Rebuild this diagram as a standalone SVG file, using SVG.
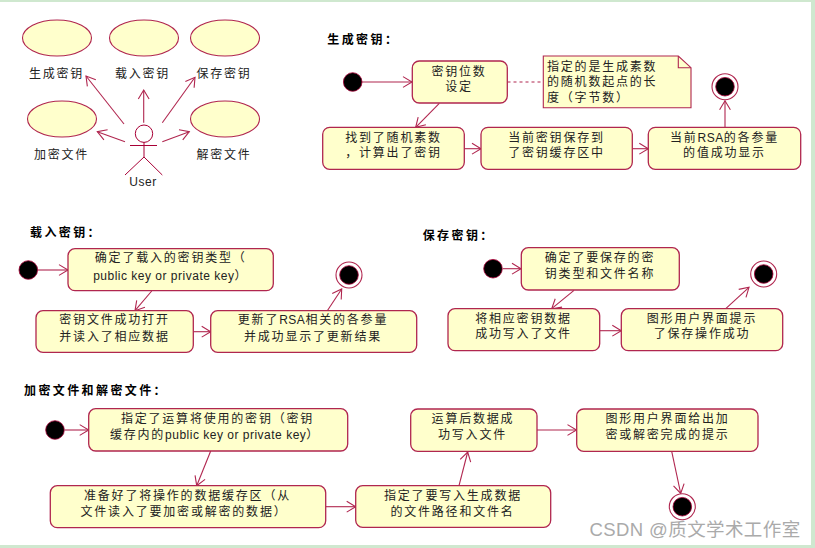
<svg xmlns="http://www.w3.org/2000/svg" width="815" height="548" viewBox="0 0 815 548">
<style>
text{font-family:"Liberation Sans","Noto Sans CJK SC",sans-serif;font-size:12px;fill:#222;letter-spacing:1.8px;text-anchor:middle;dominant-baseline:central}
.l{letter-spacing:.5px}
.title{font-weight:700;fill:#000;text-anchor:start;letter-spacing:2.4px}
.start{text-anchor:start}
.uc{fill:#ffffcc;stroke:#b0264f;stroke-width:1.1}
.box{fill:#ffffcc;stroke:#b0264f;stroke-width:1.3}
.dot{fill:#000;stroke:#a80036;stroke-width:.8}
.ring{fill:#fff;stroke:#b0264f;stroke-width:1.1}
.c{fill:none;stroke:#b0264f;stroke-width:1.1;marker-end:url(#a)}
.actor{fill:none;stroke:#a80036;stroke-width:1}
.wm{font-size:18.5px;fill:#aaa;letter-spacing:.4px;text-anchor:start}
</style>
<defs>
<marker id="a" markerUnits="userSpaceOnUse" markerWidth="14" markerHeight="14" refX="10" refY="7" orient="auto">
<path d="M1 1.6L10 7L1 12.4" fill="none" stroke="#b0264f" stroke-width="1.1"/>
</marker>
</defs>
<rect width="815" height="548" fill="#fff"/>
<path d="M0 0H815V548H0V545H811V2H0Z" fill="#cfe8cf"/>

<g id="connectors">
<path class="c" d="M124 124L86 76"/>
<path class="c" d="M143.7 122.7V90"/>
<path class="c" d="M162.3 122.7L195 77.3"/>
<path class="c" d="M125 141.7L97.3 131.7"/>
<path class="c" d="M162.3 141.7L189.3 131.7"/>
<path class="c" d="M362 82H412"/>
<path d="M507.5 82H542" fill="none" stroke="#b0264f" stroke-width="1.1" stroke-dasharray="3 3"/>
<path class="c" d="M439.3 103.3L415.7 127.3"/>
<path class="c" d="M464.3 148.7H481"/>
<path class="c" d="M632.3 148.7H648.3"/>
<path class="c" d="M725 127.3V100.7"/>
<path class="c" d="M37.7 270H68"/>
<path class="c" d="M151.7 291L135 310.7"/>
<path class="c" d="M193.3 331.7H210.7"/>
<path class="c" d="M327.3 310.7L341.7 289"/>
<path class="c" d="M503 268.7H521"/>
<path class="c" d="M574 290.3L551.7 308.7"/>
<path class="c" d="M599.7 330.7H621.3"/>
<path class="c" d="M726 308.3L749 287.3"/>
<path class="c" d="M65 430H88.7"/>
<path class="c" d="M210.7 451L196.7 485.7"/>
<path class="c" d="M325.7 506.7H355.7"/>
<path class="c" d="M459 485.7L467.7 452"/>
<path class="c" d="M537 430H576.5"/>
<path class="c" d="M671.7 451.3L680.7 493.5"/>
</g>

<g id="uc1"><ellipse class="uc" cx="57" cy="38" rx="34.5" ry="18"/><text x="56.5" y="74">生成密钥</text></g>
<g id="uc2"><ellipse class="uc" cx="144" cy="38" rx="34.5" ry="18"/><text x="142.5" y="74">载入密钥</text></g>
<g id="uc3"><ellipse class="uc" cx="225" cy="38" rx="34.5" ry="18"/><text x="224" y="74">保存密钥</text></g>
<g id="uc4"><ellipse class="uc" cx="62" cy="119" rx="34.5" ry="18"/><text x="61.5" y="155">加密文件</text></g>
<g id="uc5"><ellipse class="uc" cx="225" cy="119" rx="34.5" ry="18"/><text x="224" y="155">解密文件</text></g>
<g id="actor">
<circle class="actor" cx="144" cy="133.7" r="8.7"/>
<path class="actor" d="M144 142.4V157M130 145.5H157M125 175L144 157L162.3 175"/>
<text class="l" x="143" y="181.5">User</text>
</g>

<text class="title" x="327.3" y="40">生成密钥：</text>
<g id="g-start"><circle class="dot" cx="352.7" cy="82" r="9.3"/></g>
<g id="g1"><rect class="box" x="412.3" y="61" width="95" height="42" rx="7"/><text x="459" y="71.7">密钥位数</text><text x="459" y="86.7">设定</text></g>
<g id="g-note">
<path d="M543.3 56H678.3L691 67.7V107.7H543.3Z" fill="#ffffcc" stroke="#b0264f" stroke-width="1.1"/>
<path d="M678.3 56V67.7H691" fill="none" stroke="#b0264f" stroke-width="1.1"/>
<text class="start" x="547" y="66.7">指定的是生成素数</text><text class="start" x="547" y="82.3">的随机数起点的长</text><text class="start" x="547" y="98.3">度（字节数）</text>
</g>
<g id="g-end"><circle class="ring" cx="725" cy="86.7" r="13"/><circle class="dot" cx="725" cy="86.7" r="9.3"/></g>
<g id="g2"><rect class="box" x="322.7" y="127.3" width="141.6" height="42" rx="7"/><text x="393.5" y="137.5">找到了随机素数</text><text x="393.5" y="153">，计算出了密钥</text></g>
<g id="g3"><rect class="box" x="481" y="127.3" width="151.3" height="42" rx="7"/><text x="556.5" y="137.5">当前密钥保存到</text><text x="556.5" y="153">了密钥缓存区中</text></g>
<g id="g4"><rect class="box" x="648.3" y="127.3" width="152.4" height="42" rx="7"/><text x="724.5" y="137.5">当前<tspan class="l">RSA</tspan>的各参量</text><text x="724.5" y="153">的值成功显示</text></g>

<text class="title" x="30" y="233">载入密钥：</text>
<g id="l-start"><circle class="dot" cx="28.3" cy="270" r="9.3"/></g>
<g id="l1"><rect class="box" x="68" y="248.7" width="205.3" height="42" rx="7"/><text x="170.7" y="258.3">确定了载入的密钥类型（</text><text x="170.7" y="275.7"><tspan class="l">public key or private key</tspan>）</text></g>
<g id="l2"><rect class="box" x="36" y="310.7" width="157.3" height="41.6" rx="7"/><text x="114.5" y="320">密钥文件成功打开</text><text x="114.5" y="336.7">并读入了相应数据</text></g>
<g id="l3"><rect class="box" x="210.7" y="310.7" width="206" height="41.6" rx="7"/><text x="313" y="320">更新了<tspan class="l">RSA</tspan>相关的各参量</text><text x="313" y="336.7">并成功显示了更新结果</text></g>
<g id="l-end"><circle class="ring" cx="349" cy="275" r="13"/><circle class="dot" cx="349" cy="275" r="9.3"/></g>

<text class="title" x="422.7" y="235.7">保存密钥：</text>
<g id="s-start"><circle class="dot" cx="493" cy="268.7" r="9.3"/></g>
<g id="s1"><rect class="box" x="521.3" y="247.7" width="158" height="42.3" rx="7"/><text x="600" y="258.3">确定了要保存的密</text><text x="600" y="273.7">钥类型和文件名称</text></g>
<g id="s2"><rect class="box" x="448" y="308.7" width="151.7" height="42" rx="7"/><text x="523.5" y="319">将相应密钥数据</text><text x="523.5" y="334.3">成功写入了文件</text></g>
<g id="s3"><rect class="box" x="621.3" y="308.7" width="161.4" height="42" rx="7"/><text x="702" y="319">图形用户界面提示</text><text x="702" y="334.3">了保存操作成功</text></g>
<g id="s-end"><circle class="ring" cx="763.7" cy="274" r="13"/><circle class="dot" cx="763.7" cy="274" r="9.3"/></g>

<text class="title" x="24" y="391">加密文件和解密文件：</text>
<g id="e-start"><circle class="dot" cx="55" cy="430" r="9.3"/></g>
<g id="e1"><rect class="box" x="88.7" y="408.7" width="259" height="42.3" rx="7"/><text x="217.5" y="419">指定了运算将使用的密钥（密钥</text><text x="215" y="435">缓存内的<tspan class="l">public key or private key</tspan>）</text></g>
<g id="e2"><rect class="box" x="50.3" y="485.7" width="275.4" height="42" rx="7"/><text x="187.5" y="496">准备好了将操作的数据缓存区（从</text><text x="184" y="511.5">文件读入了要加密或解密的数据）</text></g>
<g id="e3"><rect class="box" x="355.7" y="485.7" width="195" height="41.6" rx="7"/><text x="453" y="495.5">指定了要写入生成数据</text><text x="452.5" y="511.5">的文件路径和文件名</text></g>
<g id="e4"><rect class="box" x="410.7" y="409" width="126.3" height="42.3" rx="7"/><text x="473" y="419">运算后数据成</text><text x="472.5" y="435">功写入文件</text></g>
<g id="e5"><rect class="box" x="576.7" y="409" width="181.3" height="42.3" rx="7"/><text x="667.5" y="419">图形用户界面给出加</text><text x="667.5" y="435">密或解密完成的提示</text></g>
<g id="e-end"><circle class="ring" cx="682.3" cy="506.7" r="13"/><circle class="dot" cx="682.3" cy="506.7" r="9.3"/></g>

<text class="wm" x="589.5" y="529">CSDN @质文学术工作室</text>
</svg>
